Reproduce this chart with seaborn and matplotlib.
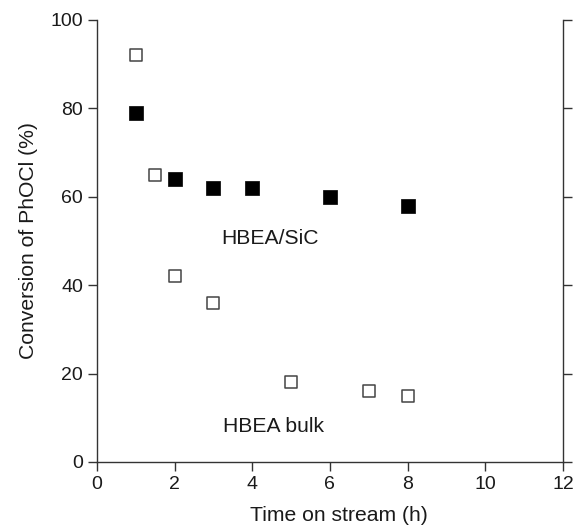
import matplotlib
matplotlib.use("Agg")
import matplotlib.pyplot as plt
import seaborn as sns
import pandas as pd

# Data
sic_time = [1, 2, 3, 4, 6, 8]
sic_conv = [79, 64, 62, 62, 60, 58]
bulk_time = [1, 1.5, 2, 3, 5, 7, 8]
bulk_conv = [92, 65, 42, 36, 18, 16, 15]
xticks = [0, 2, 4, 6, 8, 10, 12]
yticks = [0, 20, 40, 60, 80, 100]

sns.set_style("ticks")
plt.rcParams['font.family'] = ['Liberation Sans', 'DejaVu Sans']

fig = plt.figure(figsize=(5.73, 5.25), dpi=100)
ax = fig.add_axes([0.169, 0.12, 0.8135, 0.842])

df_sic = pd.DataFrame({"t": sic_time, "c": sic_conv})
df_bulk = pd.DataFrame({"t": bulk_time, "c": bulk_conv})

sns.scatterplot(data=df_bulk, x="t", y="c", marker="s", s=85, facecolor="white",
                edgecolor="#444444", linewidth=1.1, ax=ax, zorder=3)
sns.scatterplot(data=df_sic, x="t", y="c", marker="s", s=115, color="black",
                edgecolor="black", linewidth=0.5, ax=ax, zorder=3)

ax.set_xlim(0, 12)
ax.set_ylim(0, 100)
ax.set_xticks(xticks)
ax.set_yticks(yticks)
ax.set_xlabel("Time on stream (h)", fontsize=15.2, color="#1a1a1a")
ax.xaxis.set_label_coords(0.52, -0.1)
ax.set_ylabel("Conversion of PhOCl (%)", fontsize=15.2, color="#1a1a1a", labelpad=9)
ax.tick_params(labelsize=14, length=6.5, width=1, color="#333333", labelcolor="#1a1a1a")
ax.tick_params(axis="y", which="both", right=True, labelright=False)

for side in ["left", "right", "bottom"]:
    ax.spines[side].set_color("#333333")
    ax.spines[side].set_linewidth(1)
ax.spines["top"].set_visible(False)

ax.text(4.45, 50.5, "HBEA/SiC", fontsize=15.2, ha="center", va="center", color="#1a1a1a")
ax.text(4.56, 8.0, "HBEA bulk", fontsize=15.2, ha="center", va="center", color="#1a1a1a")

fig.savefig("out.png", dpi=100)
